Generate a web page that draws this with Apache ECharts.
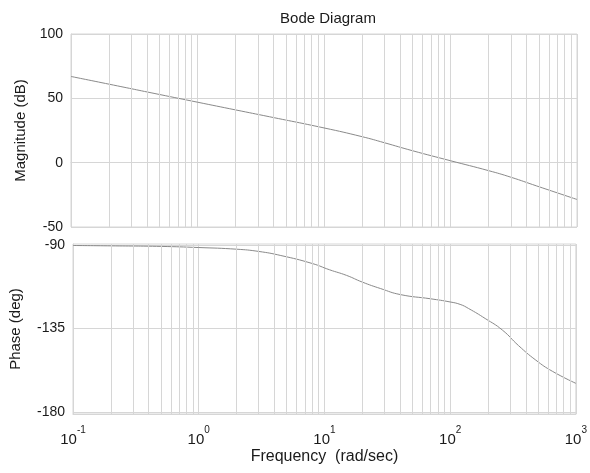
<!DOCTYPE html>
<html>
<head>
<meta charset="utf-8">
<script src="https://cdn.jsdelivr.net/npm/echarts@6/dist/echarts.min.js"></script>
<style>
html,body{margin:0;padding:0;background:#fff;}
#chart{width:590px;height:473px;}
</style>
</head>
<body>
<div id="chart"></div>
<script>
// 幅频特性：频率 (rad/sec) 与幅值 (dB)
const magFreq = [0.1, 0.2, 0.5, 1, 2, 3.7, 10, 20, 30, 50, 100, 200, 300, 480, 700, 1000];
const magnitude = [67, 61, 53, 47, 41, 35.7, 27, 20.2, 15.5, 9.3, 1.5, -6.2, -11.3, -18.1, -23.5, -28.6];
// 相频特性：频率 (rad/sec) 与相位 (deg)
const phaseFreq = [0.1, 0.2, 0.5, 1, 2, 3, 4.5, 8, 11, 15, 20, 28, 40, 70, 100, 120, 140, 190, 260, 350, 480, 650, 1000];
const phase = [-90.3, -90.5, -90.8, -91.4, -92.3, -93.5, -95.7, -100, -103.4, -106.4, -110, -113.5, -116.7, -119, -120.7, -122, -124.2, -129.6, -135.8, -144.2, -152, -158, -164.5];
// 对数轴上的次网格线
const minorTicks = [];
[0.1, 1, 10, 100].forEach(function(d) {
    for (let k = 2; k <= 9; k++) {
        minorTicks.push(+(d * k).toPrecision(3));
    }
});
const magTicks = [-50, 0, 50, 100];
const phaseTicks = [-180, -135, -90];

const gridColor = '#d6d6d6';
const lineColor = '#8a8a8a';
const textColor = '#1a1a1a';
const fontFamily = 'Liberation Sans, Arial, sans-serif';

function xAxisOption(gridIndex, showLabel) {
    return {
        type: 'log',
        logBase: 10,
        gridIndex: gridIndex,
        min: 0.1,
        max: 1000,
        name: showLabel ? 'Frequency  (rad/sec)' : '',
        nameLocation: 'middle',
        nameGap: 35,
        nameTextStyle: {color: textColor, fontSize: 16, fontFamily: fontFamily},
        axisLine: {show: true, lineStyle: {color: gridColor}},
        axisTick: {show: false},
        splitLine: {show: true, lineStyle: {color: gridColor, width: 1}},
        axisLabel: {
            show: showLabel,
            margin: 11,
            formatter: function(v) {
                const e = Math.round(Math.log10(v));
                return '{b|10}{s|' + e + '}';
            },
            rich: {
                b: {fontSize: 15, color: textColor, fontFamily: fontFamily, lineHeight: 22, verticalAlign: 'bottom'},
                s: {fontSize: 10, color: textColor, fontFamily: fontFamily, lineHeight: 12, verticalAlign: 'top'}
            }
        }
    };
}

// 用 customValues 让刻度与边框略微错开（参考图中 -90 / -180 处的双线）
function yAxisOption(gridIndex, name, min, max, ticks, nameGap) {
    return {
        type: 'value',
        gridIndex: gridIndex,
        min: min,
        max: max,
        name: name,
        nameLocation: 'middle',
        nameGap: nameGap,
        nameTextStyle: {color: textColor, fontSize: 15, fontFamily: fontFamily},
        axisLine: {show: true, lineStyle: {color: gridColor}},
        axisTick: {show: false, customValues: ticks},
        splitLine: {show: true, lineStyle: {color: gridColor, width: 1}},
        axisLabel: {color: textColor, fontSize: 14, fontFamily: fontFamily, margin: 8, customValues: ticks}
    };
}

function minorGridSeries(idx) {
    return {
        type: 'line',
        xAxisIndex: idx,
        yAxisIndex: idx,
        data: [],
        silent: true,
        z: 1,
        markLine: {
            silent: true,
            symbol: ['none', 'none'],
            label: {show: false},
            animation: false,
            lineStyle: {color: gridColor, type: 'solid', width: 1},
            emphasis: {disabled: true},
            data: minorTicks.map(function(t) { return {xAxis: t}; })
        }
    };
}

const chart = echarts.init(document.getElementById('chart'));
chart.setOption({
    animation: false,
    backgroundColor: '#fff',
    title: {
        text: 'Bode Diagram',
        left: 323,
        top: 6,
        textAlign: 'center',
        textStyle: {color: textColor, fontSize: 15, fontWeight: 'normal', fontFamily: fontFamily}
    },
    grid: [
        {left: 71, right: 13, top: 34, height: 193, show: true, borderColor: gridColor, borderWidth: 1},
        {left: 71, right: 13, top: 244, height: 170, show: true, borderColor: gridColor, borderWidth: 1}
    ],
    xAxis: [xAxisOption(0, false), xAxisOption(1, true)],
    yAxis: [
        yAxisOption(0, 'Magnitude (dB)', -50, 100, magTicks, 43),
        yAxisOption(1, 'Phase (deg)', -181, -89.5, phaseTicks, 50)
    ],
    series: [
        minorGridSeries(0),
        minorGridSeries(1),
        {
            type: 'line',
            xAxisIndex: 0,
            yAxisIndex: 0,
            data: magFreq.map(function(f, i) { return [f, magnitude[i]]; }),
            showSymbol: false,
            smooth: 0.5,
            z: 3,
            lineStyle: {color: lineColor, width: 1}
        },
        {
            type: 'line',
            xAxisIndex: 1,
            yAxisIndex: 1,
            data: phaseFreq.map(function(f, i) { return [f, phase[i]]; }),
            showSymbol: false,
            smooth: 0.5,
            z: 3,
            lineStyle: {color: lineColor, width: 1}
        }
    ]
});
</script>
</body>
</html>
